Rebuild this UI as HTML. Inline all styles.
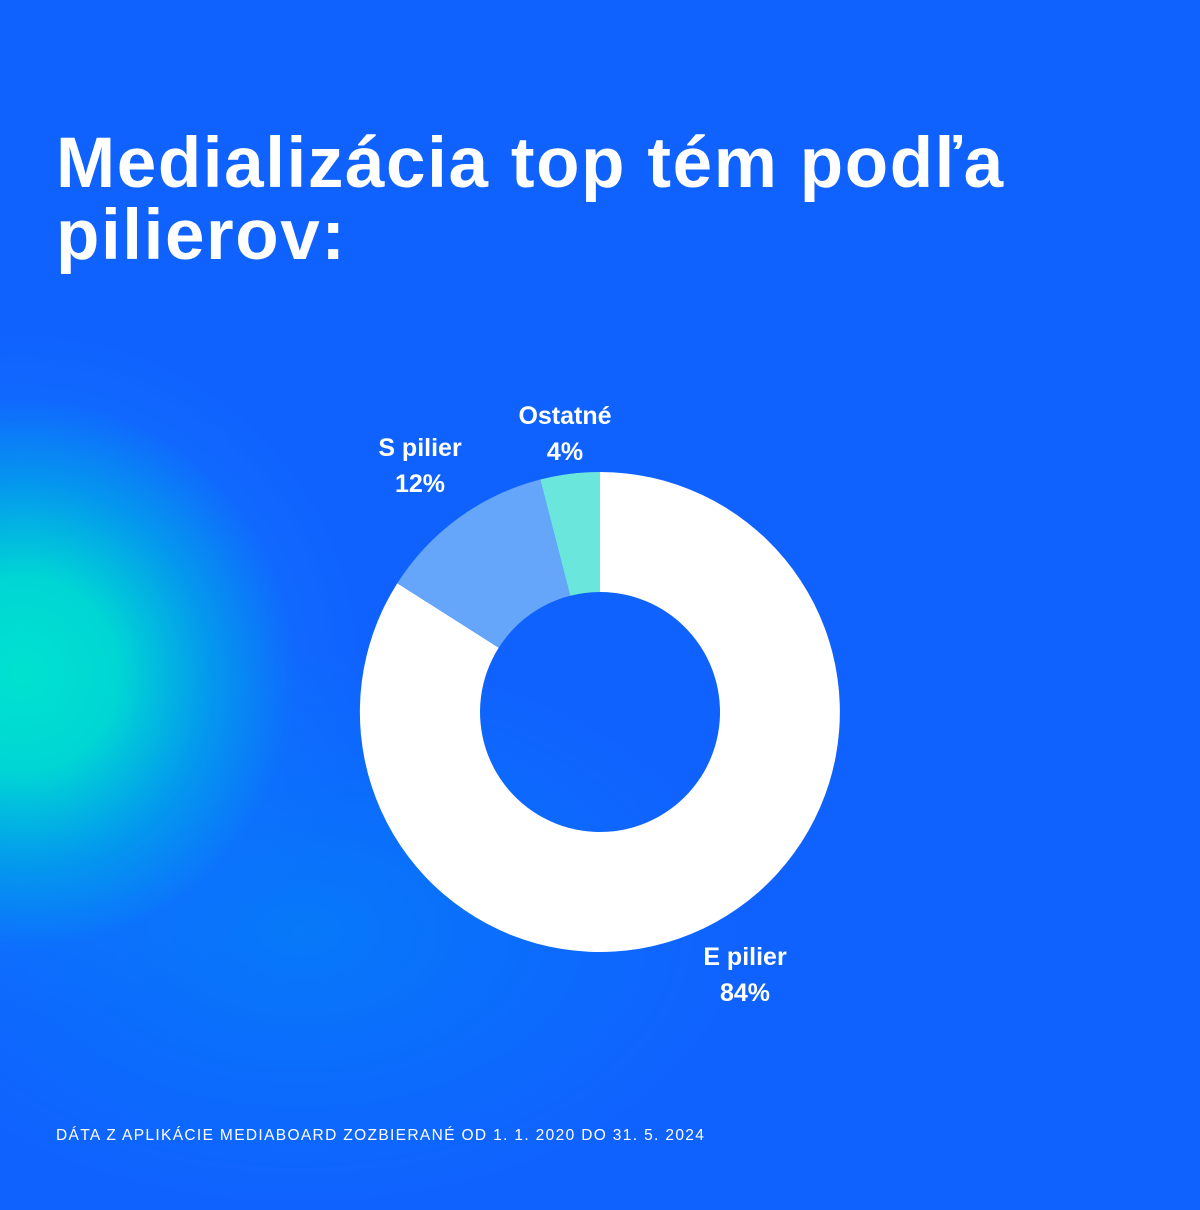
<!DOCTYPE html>
<html><head><meta charset="utf-8"><style>
html,body{margin:0;padding:0}
body{width:1200px;height:1200px;position:relative;overflow:hidden;font-family:"Liberation Sans",sans-serif;color:#fff;
background:#1062FE;}
.glow{position:absolute;left:-320px;top:330px;width:760px;height:820px;border-radius:50%;
background:radial-gradient(ellipse closest-side at 45% 42%, #00E2D0 0%, #00D6D4 28%, rgba(0,170,232,0.75) 55%, rgba(16,120,254,0.3) 80%, rgba(16,98,254,0) 100%);}
.glow2{position:absolute;left:-150px;top:650px;width:900px;height:560px;border-radius:50%;
background:radial-gradient(ellipse closest-side at 50% 50%, rgba(0,140,245,0.55) 0%, rgba(0,130,250,0.25) 60%, rgba(16,98,254,0) 100%);}
h1{position:absolute;left:56px;top:128px;margin:0;font-size:71px;line-height:72px;font-weight:bold;letter-spacing:1.6px}
.lbl{position:absolute;font-weight:bold;font-size:25px;line-height:36px;text-align:center}
.foot{position:absolute;left:56px;top:1127px;font-size:15.5px;letter-spacing:1.35px}
svg{position:absolute;left:0;top:0}
</style></head><body>
<div class="glow2"></div>
<div class="glow"></div>
<h1>Medializácia top tém podľa<br>pilierov:</h1>
<svg width="1200" height="1200">
<path d="M600,472 A240,240 0 1 1 397.3,583.3 L498.7,647.7 A120,120 0 1 0 600,592 Z" fill="#fff"/>
<path d="M397.3,583.3 A240,240 0 0 1 540.3,479.5 L570.2,595.8 A120,120 0 0 0 498.7,647.7 Z" fill="#66A6FA"/>
<path d="M540.3,479.5 A240,240 0 0 1 600,472 L600,592 A120,120 0 0 0 570.2,595.8 Z" fill="#6BE6DC"/>
</svg>
<div class="lbl" style="left:490px;top:398px;width:150px">Ostatné<br>4%</div>
<div class="lbl" style="left:345px;top:430px;width:150px">S pilier<br>12%</div>
<div class="lbl" style="left:670px;top:939px;width:150px">E pilier<br>84%</div>
<div class="foot">DÁTA Z APLIKÁCIE MEDIABOARD ZOZBIERANÉ OD 1. 1. 2020 DO 31. 5. 2024</div>
</body></html>
